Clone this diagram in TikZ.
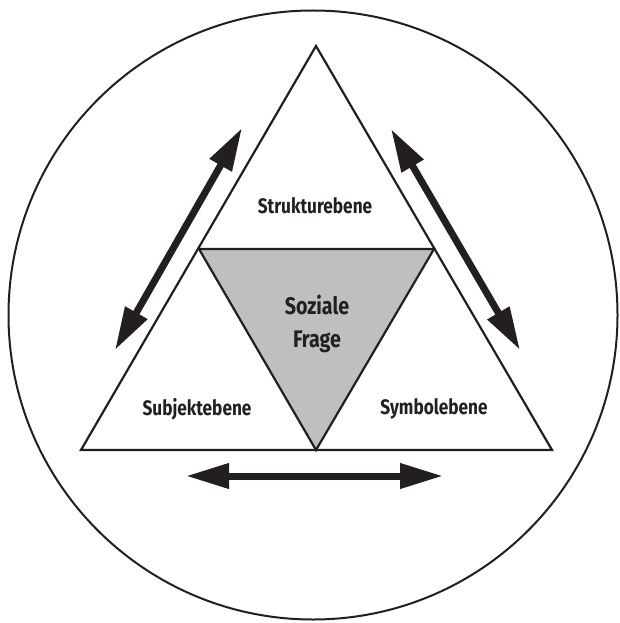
\documentclass[tikz,border=0pt]{standalone}
\usepackage{fontspec}
\setmainfont{Fira Sans}
\newfontfamily\lblfont[FakeStretch=0.82]{Fira Sans}
\usetikzlibrary{arrows.meta}
\definecolor{ink}{HTML}{231F20}
\definecolor{fillgray}{HTML}{BEBFC1}
\tikzset{
  outline/.style={draw=ink, line width=2.2pt, line join=miter},
  dblarrow/.style={draw=ink, line width=7pt,
    {Triangle[length=43pt,width=24pt]}-{Triangle[length=43pt,width=24pt]}},
  lbl/.style={text=ink, font=\lblfont\bfseries\fontsize{21}{24}\selectfont, inner sep=0pt},
  biglbl/.style={text=ink, font=\lblfont\bfseries\fontsize{24}{33}\selectfont, align=center, inner sep=0pt}
}
\begin{document}
\begin{tikzpicture}[x=1pt,y=-1pt]
\useasboundingbox (0,0) rectangle (620,623);
% outer circle
\draw[draw=ink, line width=2pt] (313,315) circle[radius=304.5];
% triangle corners
\coordinate (T) at (316,46);
\coordinate (BL) at (81,450);
\coordinate (BR) at (552,450);
\coordinate (IL) at (199,249);
\coordinate (IR) at (434,249);
\coordinate (IB) at (316,450);
\draw[outline] (T) -- (BR) -- (BL) -- cycle;
\draw[outline, fill=fillgray] (IL) -- (IR) -- (IB) -- cycle;
% labels
\node[lbl] (struktur) at (315,206) {Strukturebene};
\node[lbl] (subjekt) at (197,409) {Subjektebene};
\node[lbl] (symbol) at (434,409) {Symbolebene};
\node[biglbl] (frage) at (317,324) {Soziale\\Frage};
% arrows
\coordinate (a1s) at (115,350);
\coordinate (a1e) at (242,128);
\coordinate (a2s) at (391,129);
\coordinate (a2e) at (520,350);
\coordinate (a3s) at (186,476);
\coordinate (a3e) at (443,476);
\draw[dblarrow] (a1s) -- (a1e);
\draw[dblarrow] (a2s) -- (a2e);
\draw[dblarrow] (a3s) -- (a3e);
\end{tikzpicture}
\end{document}
